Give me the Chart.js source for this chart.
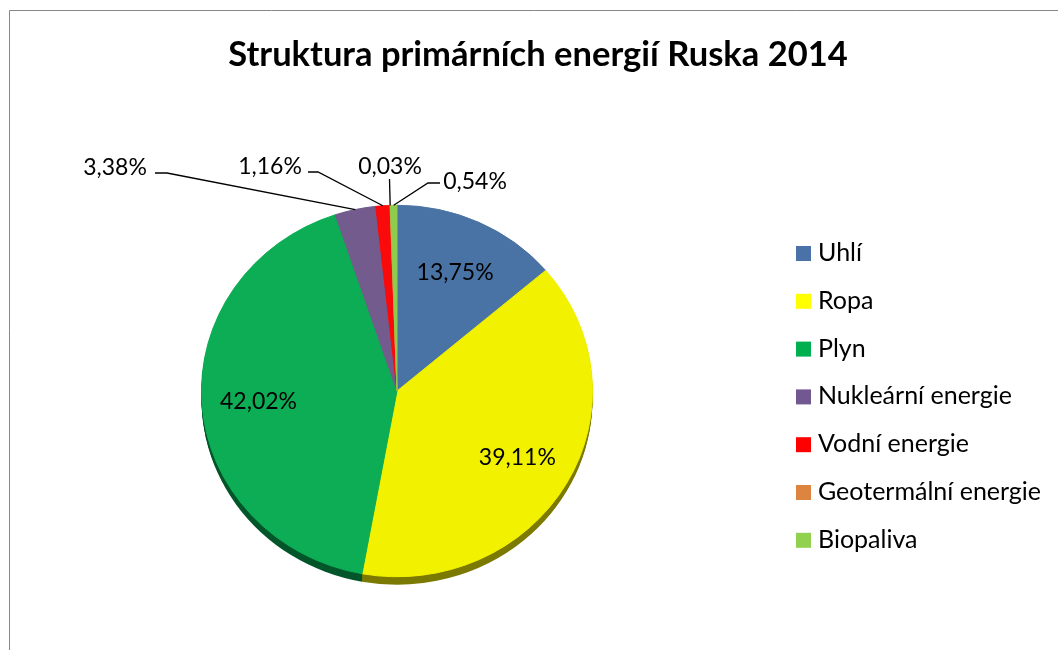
<!DOCTYPE html>
<html><head><meta charset="utf-8">
<script src="https://cdn.jsdelivr.net/npm/chart.js@4.4.1/dist/chart.umd.min.js"></script>
<style>html,body{margin:0;padding:0;background:#fff}#wrap{width:1058px;height:650px;position:relative}</style>
</head><body><div id="wrap"><canvas id="c" width="1058" height="650"></canvas></div>
<script>
const chartTitle = 'Struktura primárních energií Ruska 2014';
const categories = ['Uhlí','Ropa','Plyn','Nukleární energie','Vodní energie','Geotermální energie','Biopaliva'];
const shares = [13.75, 39.11, 42.02, 3.38, 1.16, 0.03, 0.54];
const sliceColors = ['#4A73A5','#F2F200','#0CAD55','#735C8D','#FA0A0A','#DC8440','#8FCC4C'];
const legendColors = ['#4A72A8','#FFFF00','#00B050','#725890','#FF0000','#DC8440','#92D050'];
const sideColors = ['#2A4468','#7C7A00','#03562A','#3E3050','#8A0000','#7A4520','#4E7A22'];
// label placement: 'in' = inside the slice; otherwise text centre + leader line bend points
const outsideLabels = {
  3: {tx: 115, ty: 166, pts: [[155,173],[167,173]]},
  4: {tx: 270, ty: 165, pts: [[308,172],[318,172]]},
  5: {tx: 390, ty: 165, pts: [[389.5,179]]},
  6: {tx: 475, ty: 180, pts: [[440,183],[428,183]]}
};
const SY = 0.95, DEPTH = 8;
const FONT = 'Lato, "Open Sans", sans-serif';
const fmt = v => v.toFixed(2).replace('.', ',') + '%';

const deco = {
  id: 'deco',
  beforeDraw(chart) {
    const ctx = chart.ctx;
    ctx.save();
    ctx.fillStyle = '#fff';
    ctx.fillRect(0, 0, chart.width, chart.height);
    ctx.strokeStyle = '#878787';
    ctx.lineWidth = 1;
    ctx.beginPath();
    ctx.moveTo(9.5, 650); ctx.lineTo(9.5, 10.5); ctx.lineTo(1058, 10.5);
    ctx.stroke();
    ctx.fillStyle = '#000';
    ctx.font = 'bold 34.5px ' + FONT;
    ctx.textAlign = 'center';
    ctx.textBaseline = 'alphabetic';
    ctx.fillText(chartTitle, 538, 66);
    // legend
    ctx.font = '25px ' + FONT;
    ctx.textAlign = 'left';
    categories.forEach((c, i) => {
      const base = 261 + i * 47.8;
      ctx.fillStyle = legendColors[i];
      ctx.fillRect(796, base - 15, 15, 15);
      ctx.fillStyle = '#000';
      ctx.fillText(c, 818, base);
    });
    ctx.restore();
  },
  beforeDatasetsDraw(chart) {
    const ctx = chart.ctx;
    const meta = chart.getDatasetMeta(0);
    const el0 = meta.data[0];
    const cx = el0.x, cy = el0.y;
    ctx.save();
    ctx.translate(cx, cy); ctx.scale(1, SY); ctx.translate(-cx, -cy);
    for (let d = DEPTH; d >= 1; d--) {
      meta.data.forEach((el, i) => {
        const p = el.getProps(['x','y','startAngle','endAngle','outerRadius'], true);
        ctx.beginPath();
        ctx.moveTo(p.x, p.y + d / SY);
        ctx.arc(p.x, p.y + d / SY, p.outerRadius, p.startAngle, p.endAngle);
        ctx.closePath();
        ctx.fillStyle = sideColors[i];
        ctx.fill();
      });
    }
  },
  afterDatasetsDraw(chart) {
    const ctx = chart.ctx;
    ctx.restore();
    const meta = chart.getDatasetMeta(0);
    ctx.save();
    ctx.font = '23px ' + FONT;
    ctx.fillStyle = '#000';
    ctx.strokeStyle = '#000';
    ctx.lineWidth = 1.3;
    ctx.textAlign = 'center';
    ctx.textBaseline = 'alphabetic';
    meta.data.forEach((el, i) => {
      const p = el.getProps(['x','y','startAngle','endAngle','outerRadius'], true);
      const mid = (p.startAngle + p.endAngle) / 2;
      const txt = fmt(shares[i]);
      const o = outsideLabels[i];
      if (!o) {
        const r = p.outerRadius * 0.71;
        ctx.fillText(txt, p.x + Math.cos(mid) * r, p.y + Math.sin(mid) * r * SY + 8.5);
      } else {
        ctx.fillText(txt, o.tx, o.ty + 8.5);
        ctx.beginPath();
        ctx.moveTo(o.pts[0][0], o.pts[0][1]);
        for (let k = 1; k < o.pts.length; k++) ctx.lineTo(o.pts[k][0], o.pts[k][1]);
        ctx.lineTo(p.x + Math.cos(mid) * p.outerRadius, p.y + Math.sin(mid) * p.outerRadius * SY);
        ctx.stroke();
      }
    });
    ctx.restore();
  }
};

new Chart(document.getElementById('c'), {
  type: 'pie',
  data: {
    labels: categories,
    datasets: [{ data: shares, backgroundColor: sliceColors, borderColor: sliceColors, borderWidth: 1 }]
  },
  options: {
    responsive: false,
    animation: false,
    devicePixelRatio: 1,
    layout: { padding: { left: 201, right: 465, top: 195, bottom: 63 } },
    plugins: { legend: { display: false }, tooltip: { enabled: false }, title: { display: false } },
    events: []
  },
  plugins: [deco]
});
</script>
</body></html>
